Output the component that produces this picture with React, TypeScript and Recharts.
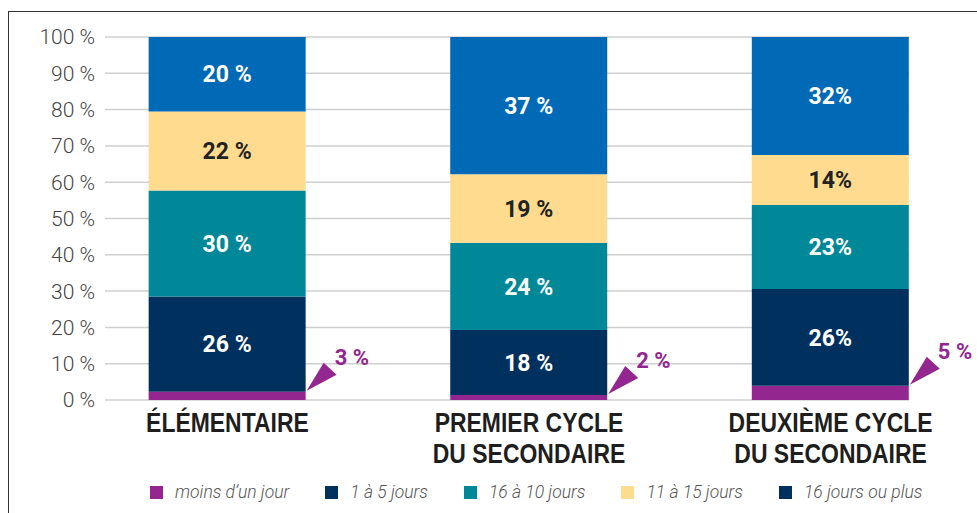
import { BarChart, Bar, XAxis, YAxis, CartesianGrid, LabelList } from 'recharts';

const categoryLines = [['ÉLÉMENTAIRE'], ['PREMIER CYCLE', 'DU SECONDAIRE'], ['DEUXIÈME CYCLE', 'DU SECONDAIRE']];

const moinsUnJour = [2.3, 1.4, 3.9];
const unACinq = [26.2, 17.9, 26.7];
const sixADix = [29.2, 24.0, 23.1];
const onzeAQuinze = [21.8, 18.9, 13.8];
const seizePlus = [20.5, 37.8, 32.5];

const moinsLabels = ['3 %', '2 %', '5 %'];
const unACinqLabels = ['26 %', '18 %', '26%'];
const sixADixLabels = ['30 %', '24 %', '23%'];
const onzeLabels = ['22 %', '19 %', '14%'];
const seizeLabels = ['20 %', '37 %', '32%'];

const yTicks = [0, 10, 20, 30, 40, 50, 60, 70, 80, 90, 100];

const legendItems = [
  { label: 'moins d\u2019un jour', color: '#93278F' },
  { label: '1 à 5 jours', color: '#00305E' },
  { label: '16 à 10 jours', color: '#008899' },
  { label: '11 à 15 jours', color: '#FEDB8E' },
  { label: '16 jours ou plus', color: '#00305E' },
];

const data = categoryLines.map((_, i) => ({
  idx: i,
  a: moinsUnJour[i],
  b: unACinq[i],
  c: sixADix[i],
  d: onzeAQuinze[i],
  e: seizePlus[i],
  aLabel: moinsLabels[i],
  bLabel: unACinqLabels[i],
  cLabel: sixADixLabels[i],
  dLabel: onzeLabels[i],
  eLabel: seizeLabels[i],
}));

const barFont = { fontFamily: 'Roboto, sans-serif', fontWeight: 700, fontSize: 23 };

// narrow bold look: squeeze Liberation Sans horizontally
function CategoryTick({ x, y, payload }: any) {
  const lines = categoryLines[payload.value] || [];
  return (
    <g transform={`translate(${x},${y}) scale(0.85,1)`}>
      <text
        x={0}
        y={0}
        textAnchor="middle"
        fill="#1e1e1e"
        style={{ fontFamily: '"Liberation Sans", Arial, sans-serif', fontWeight: 700, fontSize: 27 }}
      >
        {lines.map((l, i) => (
          <tspan key={i} x={0} dy={i === 0 ? 24 : 31}>
            {l}
          </tspan>
        ))}
      </text>
    </g>
  );
}

function CalloutLabel(props: any) {
  const { x, y, width, value } = props;
  const rx = x + width;
  return (
    <g>
      <polygon points={`${rx + 1},${y - 1} ${rx + 18},${y - 29} ${rx + 31},${y - 17}`} fill="#93278F" />
      <text x={rx + 29} y={y - 27} fill="#93278F" style={{ ...barFont, fontSize: 22 }}>
        {value}
      </text>
    </g>
  );
}

export default function App() {
  return (
    <div style={{ position: 'absolute', left: 0, top: 0, width: 977, height: 513, background: '#fff', overflow: 'hidden' }}>
      <div
        style={{
          position: 'absolute',
          left: 8,
          top: 11,
          width: 1000,
          height: 600,
          borderLeft: '1px solid #333',
          borderTop: '1px solid #333',
        }}
      />
      <BarChart
        width={977}
        height={513}
        data={data}
        margin={{ top: 37, right: 68, bottom: 0, left: 15 }}
        style={{ position: 'absolute', left: 0, top: 0 }}
      >
        <CartesianGrid horizontal vertical={false} stroke="#cfcfcf" strokeWidth={1.5} />
        <XAxis
          dataKey="idx"
          type="number"
          domain={[-0.406, 2.26]}
          ticks={[0, 1, 2]}
          allowDataOverflow
          axisLine={false}
          tickLine={false}
          height={113}
          tick={<CategoryTick />}
          interval={0}
        />
        <YAxis
          domain={[0, 100]}
          ticks={yTicks}
          width={90}
          axisLine={false}
          tickLine={false}
          tickMargin={4}
          tickFormatter={(v) => `${v} %`}
          tick={{ fill: '#444', fontSize: 21, fontFamily: 'Roboto, sans-serif', fontWeight: 300 }}
        />
        <Bar dataKey="a" stackId="s" fill="#93278F" barSize={157} isAnimationActive={false}>
          <LabelList dataKey="aLabel" content={<CalloutLabel />} />
        </Bar>
        <Bar dataKey="b" stackId="s" fill="#00305E" barSize={157} isAnimationActive={false}>
          <LabelList dataKey="bLabel" position="center" fill="#fff" style={barFont} />
        </Bar>
        <Bar dataKey="c" stackId="s" fill="#008899" barSize={157} isAnimationActive={false}>
          <LabelList dataKey="cLabel" position="center" fill="#fff" style={barFont} />
        </Bar>
        <Bar dataKey="d" stackId="s" fill="#FEDB8E" barSize={157} isAnimationActive={false}>
          <LabelList dataKey="dLabel" position="center" fill="#222" style={barFont} />
        </Bar>
        <Bar dataKey="e" stackId="s" fill="#006AB6" barSize={157} isAnimationActive={false}>
          <LabelList dataKey="eLabel" position="center" fill="#fff" style={barFont} />
        </Bar>
      </BarChart>
      <div
        style={{
          position: 'absolute',
          left: 150,
          top: 482,
          display: 'flex',
          alignItems: 'center',
          gap: 36,
          fontFamily: 'Roboto, sans-serif',
          fontStyle: 'italic',
          fontWeight: 300,
          fontSize: 17.5,
          color: '#555',
          whiteSpace: 'nowrap',
        }}
      >
        {legendItems.map((it) => (
          <div key={it.label} style={{ display: 'flex', alignItems: 'center' }}>
            <span style={{ display: 'inline-block', width: 13, height: 13, background: it.color, marginRight: 12 }} />
            <span>{it.label}</span>
          </div>
        ))}
      </div>
    </div>
  );
}
